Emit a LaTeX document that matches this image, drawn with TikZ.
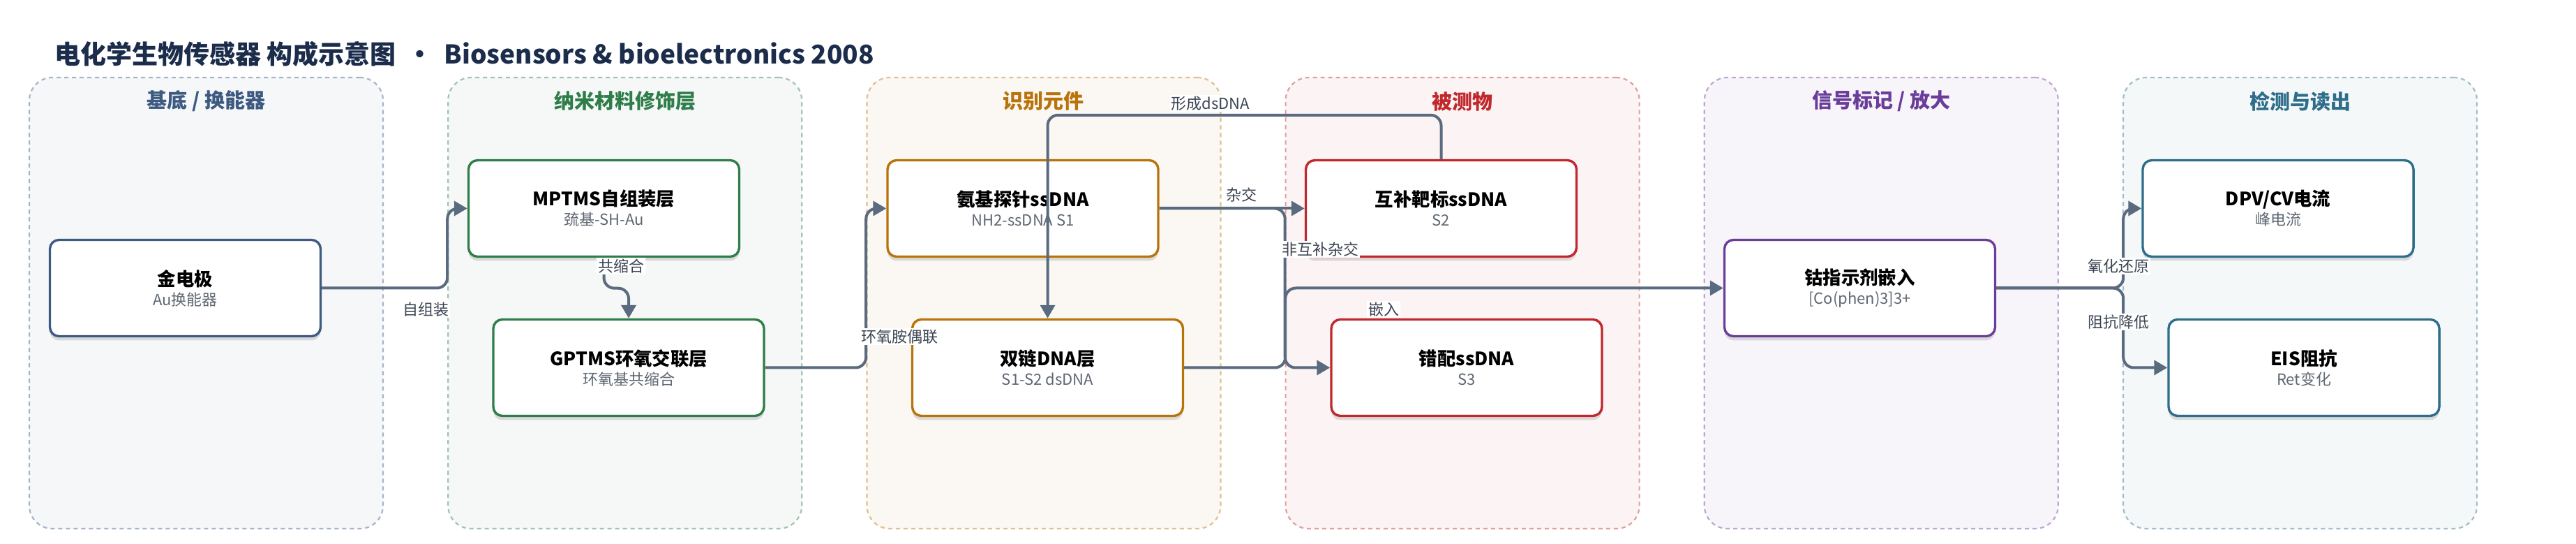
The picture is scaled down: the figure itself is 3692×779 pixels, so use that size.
\documentclass[tikz,border=0pt]{standalone}
\usepackage{fontspec}
\setmainfont{Noto Sans CJK SC}
\usetikzlibrary{arrows.meta,shadows}

\definecolor{titlec}{HTML}{1B2D4B}
\definecolor{basec}{HTML}{3D5A80}
\definecolor{nanoc}{HTML}{2E7D4A}
\definecolor{recogc}{HTML}{B8730A}
\definecolor{analytec}{HTML}{C0282D}
\definecolor{signalc}{HTML}{6A3D9A}
\definecolor{readc}{HTML}{2E6E8A}
\definecolor{edgec}{HTML}{5B6B7F}
\definecolor{subc}{HTML}{5F6873}
\definecolor{labelc}{HTML}{3B4452}

\tikzset{
  lane/.style={draw=#1!45, fill=#1!5, line width=1.1pt, dash pattern=on 3pt off 2.5pt,
    rounded corners=16.5pt, minimum width=253.5pt, minimum height=323pt},
  lanetitle/.style={text=#1, font=\bfseries\fontsize{14.5pt}{17pt}\selectfont},
  stage/.style={draw=#1, line width=1.7pt, fill=white, rounded corners=6.5pt,
    minimum width=194pt, minimum height=69pt, align=center,
    drop shadow={shadow xshift=0pt, shadow yshift=-3pt, opacity=.12, fill=black}},
  flow/.style={draw=edgec, line width=2pt, rounded corners=7.5pt,
    -{Triangle[length=9.5pt,width=10.5pt]}},
  flowlabel/.style={fill=white, inner sep=1pt, text=labelc,
    font=\fontsize{11pt}{13pt}\selectfont},
}
\newcommand{\stagetext}[2]{{\bfseries\fontsize{13.2pt}{16pt}\selectfont #1}\\[2pt]%
  {\color{subc}\fontsize{11pt}{13pt}\selectfont #2}}

\begin{document}
\begin{tikzpicture}[x=0.5pt, y=-0.5pt]
  \useasboundingbox (0,0) rectangle (3692,779);
  % title
  \node[anchor=west, inner sep=0pt, text=titlec, font=\bfseries\fontsize{18.5pt}{22pt}\selectfont] (title) at (78,77)
    {电化学生物传感器 构成示意图\hspace{8pt}·\hspace{8pt}Biosensors \& bioelectronics 2008};
  % lanes
  \node[lane=basec] (lane1) at (295.5,434) {};
  \node[lane=nanoc] (lane2) at (895.7,434) {};
  \node[lane=recogc] (lane3) at (1495.9,434) {};
  \node[lane=analytec] (lane4) at (2096.1,434) {};
  \node[lane=signalc] (lane5) at (2696.3,434) {};
  \node[lane=readc] (lane6) at (3296.5,434) {};
  \node[lanetitle=basec] (head1) at (295.5,145) {基底 / 换能器};
  \node[lanetitle=nanoc] (head2) at (895.7,145) {纳米材料修饰层};
  \node[lanetitle=recogc] (head3) at (1495.9,145) {识别元件};
  \node[lanetitle=analytec] (head4) at (2096.1,145) {被测物};
  \node[lanetitle=signalc] (head5) at (2696.3,145) {信号标记 / 放大};
  \node[lanetitle=readc] (head6) at (3296.5,145) {检测与读出};
  % stages
  \node[stage=basec] (au) at (265.5,412.5) {\stagetext{金电极}{Au换能器}};
  \node[stage=nanoc] (mptms) at (865.5,298.5) {\stagetext{MPTMS自组装层}{巯基-SH-Au}};
  \node[stage=nanoc] (gptms) at (901,526.5) {\stagetext{GPTMS环氧交联层}{环氧基共缩合}};
  \node[stage=recogc] (probe) at (1466,298.5) {\stagetext{氨基探针ssDNA}{NH2-ssDNA S1}};
  \node[stage=recogc] (dsdna) at (1501.5,526.5) {\stagetext{双链DNA层}{S1-S2 dsDNA}};
  \node[stage=analytec] (target) at (2065.5,298.5) {\stagetext{互补靶标ssDNA}{S2}};
  \node[stage=analytec] (mismatch) at (2102,526.5) {\stagetext{错配ssDNA}{S3}};
  \node[stage=signalc] (cobalt) at (2665.5,412.5) {\stagetext{钴指示剂嵌入}{[Co(phen)3]3+}};
  \node[stage=readc] (dpv) at (3265,298.5) {\stagetext{DPV/CV电流}{峰电流}};
  \node[stage=readc] (eis) at (3302,526.5) {\stagetext{EIS阻抗}{Ret变化}};
  % connectors
  \draw[flow] (au.east) -- ++(180,0) |- (mptms.west);
  \draw[flow] (mptms.south) -- ++(0,43.5) -| (gptms.north);
  \draw[flow] (gptms.east) -- ++(144.5,0) |- (probe.west);
  \draw[flow] (probe.east) -- (target.west);
  \draw[flow] (probe.east) -- ++(180,0) |- (mismatch.west);
  \draw[flow] (target.north) -- ++(0,-63) -| (dsdna.north);
  \draw[flow] (dsdna.east) -- ++(145,0) |- (cobalt.west);
  \draw[flow] (cobalt.east) -- ++(182,0) |- (dpv.west);
  \draw[flow] (cobalt.east) -- ++(182,0) |- (eis.west);
  % connector labels
  \node[flowlabel] (l1) at (610,443) {自组装};
  \node[flowlabel] (l2) at (890,381) {共缩合};
  \node[flowlabel] (l3) at (1289,482) {环氧胺偶联};
  \node[flowlabel] (l4) at (1779,279) {杂交};
  \node[flowlabel] (l5) at (1892,357) {非互补杂交};
  \node[flowlabel] (l6) at (1735,148) {形成dsDNA};
  \node[flowlabel] (l7) at (1983,443) {嵌入};
  \node[flowlabel] (l8) at (3036,381) {氧化还原};
  \node[flowlabel] (l9) at (3036,461) {阻抗降低};
\end{tikzpicture}
\end{document}
